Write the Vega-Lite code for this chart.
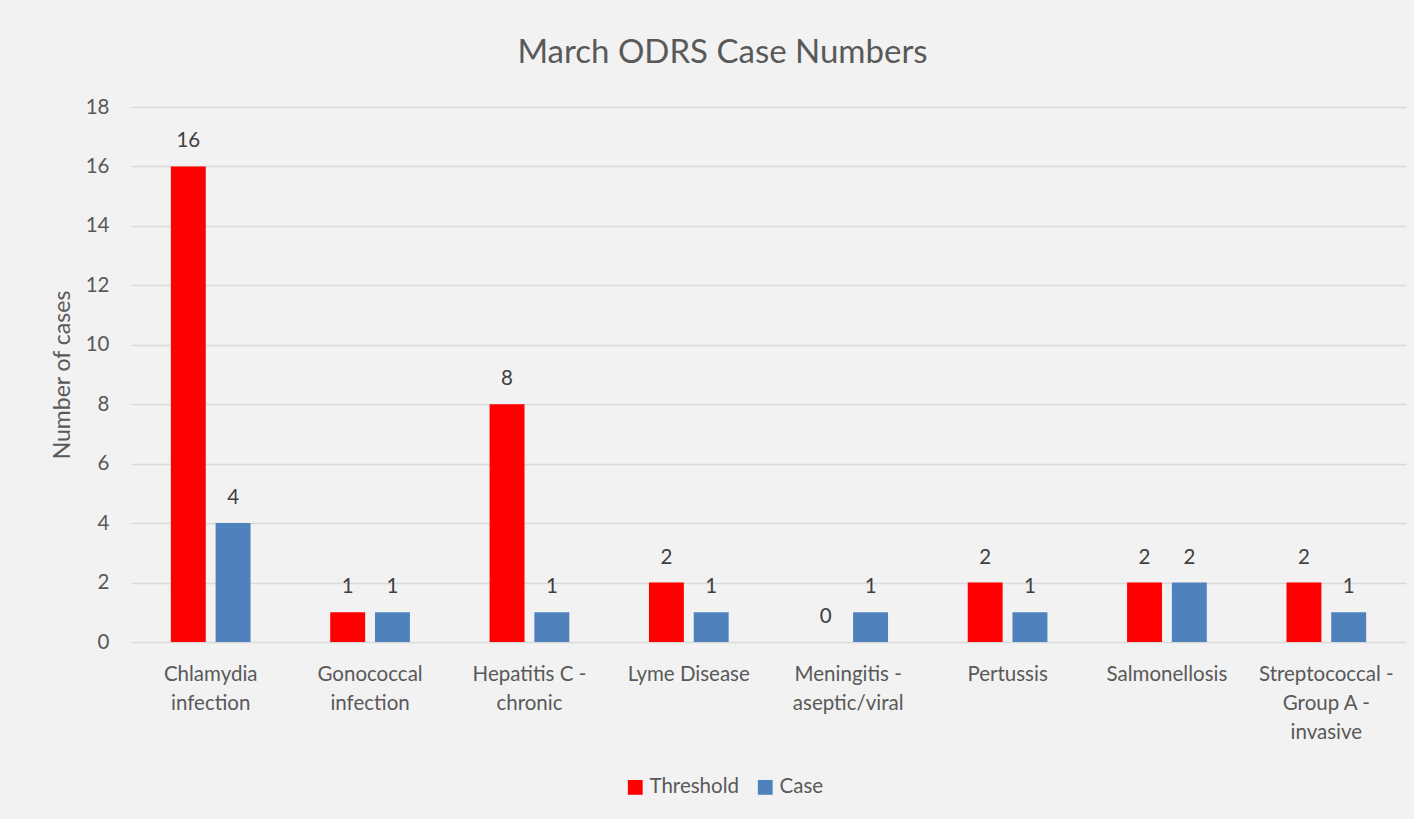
{
  "$schema": "https://vega.github.io/schema/vega-lite/v6.json",
  "width": 1275,
  "height": 535,
  "autosize": {"type": "none"},
  "padding": {"left": 131, "top": 107, "right": 8, "bottom": 177},
  "background": "#f2f2f2",
  "title": {
    "text": "March ODRS Case Numbers",
    "font": "Lato",
    "fontSize": 33,
    "fontWeight": "normal",
    "color": "#595959",
    "anchor": "middle",
    "dx": -46,
    "offset": 27
  },
  "data": {
    "values": [
      {"disease": "Chlamydia infection", "series": "Threshold", "value": 16},
      {"disease": "Chlamydia infection", "series": "Case", "value": 4},
      {"disease": "Gonococcal infection", "series": "Threshold", "value": 1},
      {"disease": "Gonococcal infection", "series": "Case", "value": 1},
      {"disease": "Hepatitis C - chronic", "series": "Threshold", "value": 8},
      {"disease": "Hepatitis C - chronic", "series": "Case", "value": 1},
      {"disease": "Lyme Disease", "series": "Threshold", "value": 2},
      {"disease": "Lyme Disease", "series": "Case", "value": 1},
      {"disease": "Meningitis - aseptic/viral", "series": "Threshold", "value": 0},
      {"disease": "Meningitis - aseptic/viral", "series": "Case", "value": 1},
      {"disease": "Pertussis", "series": "Threshold", "value": 2},
      {"disease": "Pertussis", "series": "Case", "value": 1},
      {"disease": "Salmonellosis", "series": "Threshold", "value": 2},
      {"disease": "Salmonellosis", "series": "Case", "value": 2},
      {"disease": "Streptococcal - Group A - invasive", "series": "Threshold", "value": 2},
      {"disease": "Streptococcal - Group A - invasive", "series": "Case", "value": 1}
    ]
  },
  "encoding": {
    "x": {
      "field": "disease",
      "type": "nominal",
      "sort": null,
      "scale": {"paddingInner": 0.5, "paddingOuter": 0.25},
      "axis": {
        "title": null,
        "labelAngle": 0,
        "labelFont": "Lato",
        "labelFontSize": 20.5,
        "labelColor": "#595959",
        "labelPadding": 22,
        "labelLineHeight": 29,
        "labelBaseline": "top",
        "ticks": false,
        "domain": false,
        "labelExpr": "datum.label == 'Chlamydia infection' ? ['Chlamydia', 'infection'] : datum.label == 'Gonococcal infection' ? ['Gonococcal', 'infection'] : datum.label == 'Hepatitis C - chronic' ? ['Hepatitis C -', 'chronic'] : datum.label == 'Meningitis - aseptic/viral' ? ['Meningitis -', 'aseptic/viral'] : datum.label == 'Streptococcal - Group A - invasive' ? ['Streptococcal -', 'Group A -', 'invasive'] : datum.label"
      }
    },
    "xOffset": {
      "field": "series",
      "type": "nominal",
      "sort": ["Threshold", "Case"],
      "scale": {"paddingInner": 0.22}
    },
    "y": {
      "field": "value",
      "type": "quantitative",
      "scale": {"domain": [0, 18]},
      "axis": {
        "title": "Number of cases",
        "titleFont": "Lato",
        "titleFontSize": 23,
        "titleFontWeight": "normal",
        "titleColor": "#595959",
        "titlePadding": 11,
        "values": [0, 2, 4, 6, 8, 10, 12, 14, 16, 18],
        "labelFont": "Lato",
        "labelFontSize": 20.5,
        "labelColor": "#595959",
        "labelPadding": 22,
        "ticks": false,
        "domain": false,
        "grid": true,
        "gridColor": "#d9d9d9",
        "gridWidth": 1.5
      }
    }
  },
  "layer": [
    {
      "mark": {"type": "bar"},
      "encoding": {
        "color": {
          "field": "series",
          "type": "nominal",
          "sort": ["Threshold", "Case"],
          "scale": {"domain": ["Threshold", "Case"], "range": ["#ff0000", "#4f81bd"]},
          "legend": {
            "title": null,
            "orient": "none",
            "direction": "horizontal",
            "legendX": 494,
            "legendY": 670,
            "symbolType": "square",
            "symbolSize": 220,
            "symbolStrokeWidth": 0,
            "symbolOpacity": 1,
            "labelFont": "Lato",
            "labelFontSize": 20.5,
            "labelColor": "#595959",
            "labelOffset": 4,
            "columnPadding": 16
          }
        }
      }
    },
    {
      "mark": {"type": "text", "dy": -25, "font": "Lato", "fontSize": 20.5, "color": "#404040"},
      "encoding": {
        "text": {"field": "value", "type": "quantitative"}
      }
    }
  ],
  "config": {
    "view": {"stroke": null}
  }
}
